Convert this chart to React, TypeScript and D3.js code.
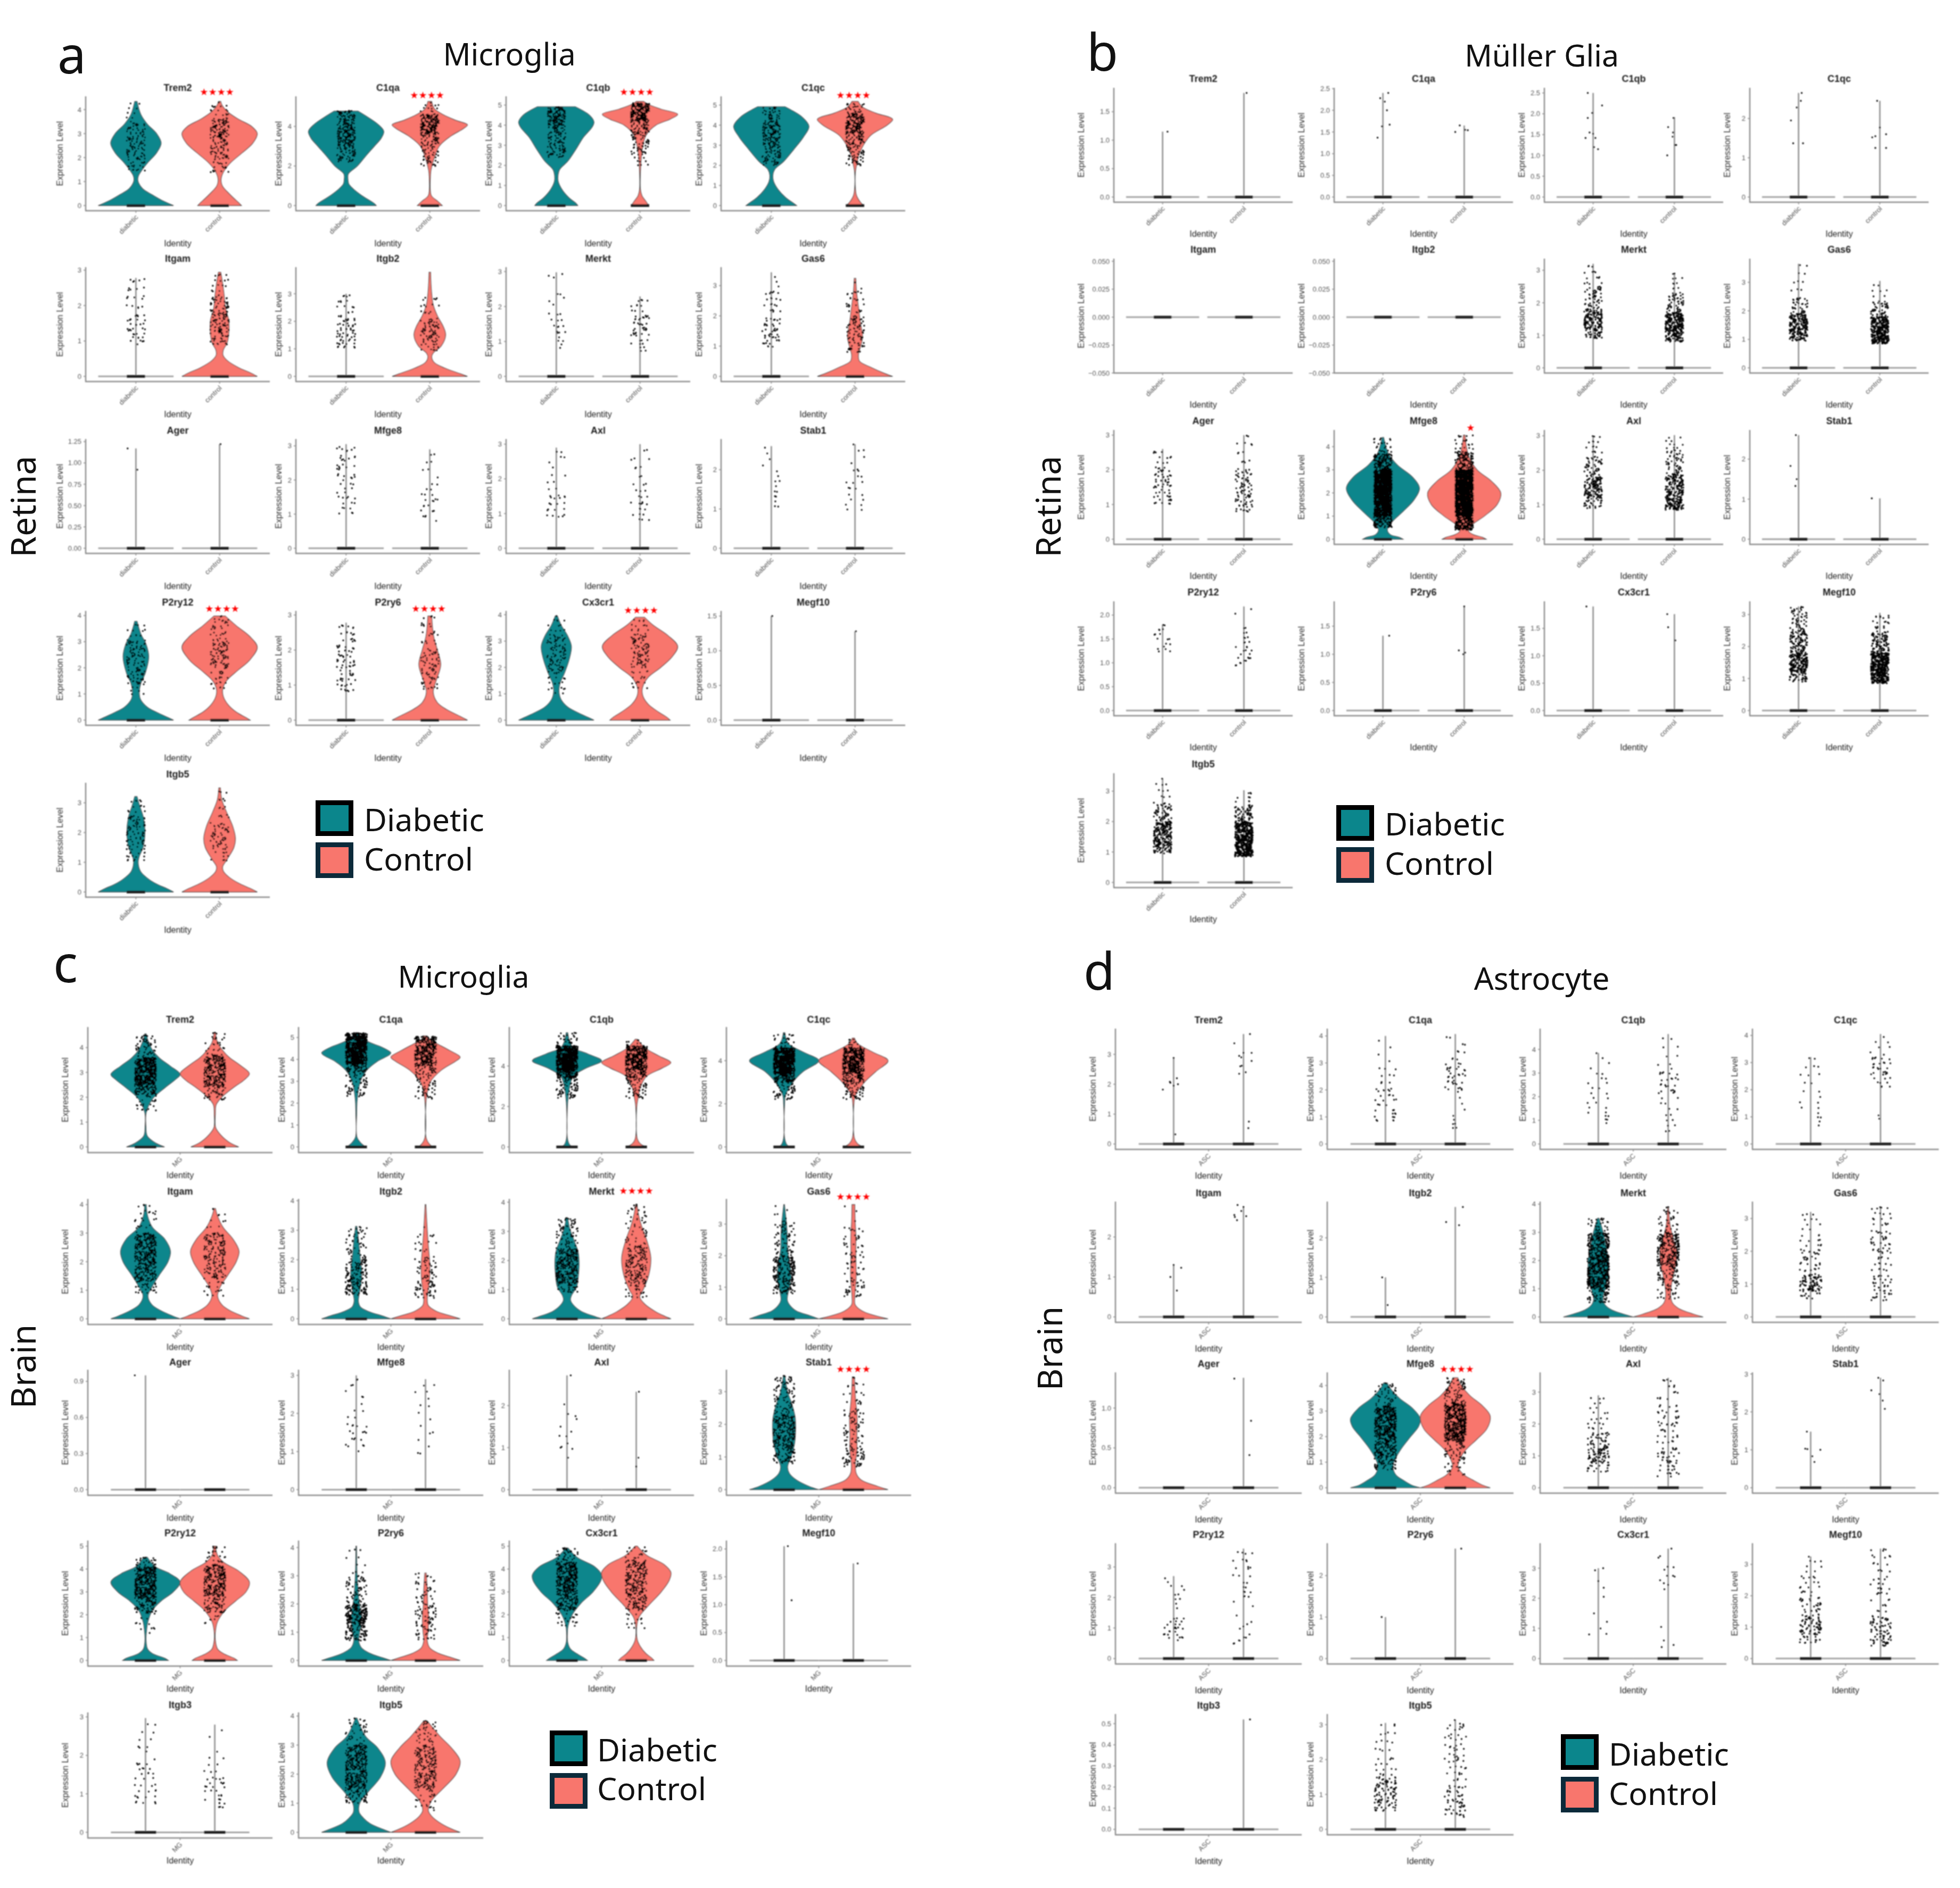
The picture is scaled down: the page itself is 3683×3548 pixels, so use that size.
import React from "react";
import * as d3 from "d3";

type Prof = [number, number][];
type Band = [number, number, number];
type Pt = [number, number];

const geneOrder4 = ["Trem2","C1qa","C1qb","C1qc","Itgam","Itgb2","Merkt","Gas6","Ager","Mfge8","Axl","Stab1","P2ry12","P2ry6","Cx3cr1","Megf10"];
const groups = ["diabetic","control"];
const I03 = [0,1,2,3], I04 = [0,1,2,3,4], I05 = [0,1,2,3,4,5];
const H15 = [0,0.5,1,1.5], H20 = [0,0.5,1,1.5,2], H25 = [0,0.5,1,1.5,2,2.5];

// ---------- Panel a ----------
const aGenes = [...geneOrder4, "Itgb5"];
const aTicks = [I04,[0,2,4],I05,I05, I03,I03,I03,I03, [0,0.25,0.5,0.75,1,1.25],I03,I03,[0,1,2], I04,I03,I04,H15, I03];
const aTops: Pt[] = [[4.34,4.34],[4.77,5.26],[4.92,5.18],[4.92,5.18],[2.78,2.94],[3,3.78],[2.98,2.29],[3.44,3.24],[1.17,1.22],[3.05,2.9],[2.9,3],[2.6,2.65],[3.78,3.98],[2.78,2.97],[3.95,3.9],[1.5,1.28],[3.21,3.5]];
const aShapes: Record<string,(Prof|null)[]> = {
  Trem2:[[[0,1],[.1,.85],[.25,.65],[.46,.42],[.7,.18],[.95,.07],[1.09,.05],[1.25,.07],[1.5,.17],[1.8,.32],[2.2,.55],[2.6,.67],[3,.55],[3.4,.3],[3.8,.13],[4.34,.03]],
         [[0,.58],[.1,.52],[.3,.38],[.5,.25],[.8,.08],[1,.04],[1.2,.05],[1.5,.14],[1.8,.3],[2.2,.6],[2.6,.88],[3,1],[3.3,.85],[3.6,.5],[3.9,.22],[4.2,.06],[4.34,.03]]],
  C1qa:[[[0,.8],[.1,.75],[.5,.42],[.86,.18],[1.1,.07],[1.32,.05],[1.6,.06],[2,.3],[2.5,.52],[3,.75],[3.4,.93],[3.75,1],[4.1,.85],[4.5,.55],[4.77,.32]],
        [[0,.33],[.2,.22],[.5,.04],[.8,.012],[1.3,.012],[1.78,.03],[2.3,.1],[3,.25],[3.5,.55],[3.9,.9],[4.08,1],[4.3,.7],[4.6,.35],[4.9,.12],[5.26,.05]]],
  C1qb:[[[0,.57],[.1,.53],[.4,.33],[.8,.15],[1.2,.05],[1.5,.045],[1.8,.09],[2.2,.3],[2.8,.52],[3.4,.72],[3.9,.95],[4.16,1],[4.5,.88],[4.92,.5]],
        [[0,.23],[.2,.16],[.5,.05],[.8,.012],[1.7,.012],[2.3,.03],[2.8,.06],[3.5,.16],[4,.42],[4.3,.8],[4.54,1],[4.8,.55],[5.05,.2],[5.18,.1]]],
  C1qc:[[[0,.67],[.1,.6],[.4,.38],[.8,.18],[1.2,.06],[1.5,.04],[1.8,.09],[2.2,.33],[2.8,.6],[3.4,.85],[3.94,1],[4.4,.82],[4.7,.58],[4.92,.36]],
        [[0,.23],[.15,.15],[.5,.04],[.8,.012],[1.7,.012],[2,.04],[2.5,.1],[3,.22],[3.5,.42],[4,.85],[4.29,1],[4.6,.55],[4.9,.2],[5.18,.08]]],
  Itgam:[null,[[0,1],[.1,.82],[.25,.5],[.45,.2],[.6,.09],[.75,.1],[.95,.2],[1.3,.25],[1.6,.24],[1.9,.16],[2.3,.12],[2.7,.07],[2.94,.03]]],
  Itgb2:[null,[[0,1],[.1,.8],[.3,.4],[.5,.12],[.7,.05],[.85,.09],[1.1,.3],[1.5,.42],[1.8,.36],[2.2,.2],[2.6,.09],[3,.05],[3.4,.03],[3.78,.02]]],
  Gas6:[null,[[0,1],[.1,.78],[.3,.42],[.5,.12],[.7,.09],[1,.15],[1.3,.2],[1.8,.14],[2.3,.09],[2.8,.04],[3.24,.02]]],
  P2ry12:[[[0,1],[.1,.85],[.3,.55],[.5,.3],[.8,.12],[1.08,.09],[1.4,.13],[1.8,.25],[2.43,.34],[2.9,.27],[3.3,.13],[3.78,.03]],
          [[0,.81],[.1,.7],[.3,.45],[.6,.22],[.9,.1],[1.17,.08],[1.5,.18],[1.9,.48],[2.3,.8],[2.79,1],[3.2,.8],[3.6,.45],[3.98,.15]]],
  P2ry6:[null,[[0,1],[.1,.82],[.3,.45],[.5,.2],[.8,.09],[1.1,.16],[1.58,.29],[2,.2],[2.4,.1],[2.97,.05]]],
  Cx3cr1:[[[0,1],[.1,.85],[.3,.55],[.5,.3],[.8,.12],[1.1,.07],[1.4,.1],[1.8,.22],[2.3,.34],[2.8,.4],[3.2,.3],[3.6,.13],[3.95,.03]],
          [[0,.8],[.1,.72],[.3,.5],[.6,.22],[.9,.08],[1.2,.06],[1.6,.2],[2,.55],[2.4,.85],[2.8,1],[3.2,.75],[3.6,.35],[3.9,.12]]],
  Itgb5:[[[0,1],[.1,.85],[.3,.5],[.5,.27],[.7,.12],[1,.06],[1.2,.09],[1.5,.19],[2,.24],[2.5,.2],[2.9,.1],[3.21,.03]],
         [[0,1],[.1,.85],[.3,.5],[.5,.25],[.7,.1],[.85,.08],[1.1,.2],[1.5,.38],[1.8,.42],[2.2,.35],[2.7,.18],[3.1,.06],[3.5,.02]]],
};
const aClouds: Record<string,Band[][]> = {
  Trem2:[[[1.4,2,25],[2,2.8,55],[2.8,3.5,40],[3.5,4.3,8]],[[1.3,2,25],[2,2.8,60],[2.8,3.6,90],[3.6,4.3,20]]],
  C1qa:[[[2.2,3,60],[3,4,140],[4,4.8,80]],[[2,3,45],[3,3.6,50],[3.6,4.6,180],[4.6,5.2,15]]],
  C1qb:[[[2.4,3,45],[3,4,70],[4,4.9,130]],[[1.9,2.6,12],[2.6,3.5,45],[3.5,4.2,70],[4.2,5.1,200]]],
  C1qc:[[[2,3,70],[3,4.2,130],[4.2,4.9,40]],[[2,3,60],[3,3.6,60],[3.6,4.6,170],[4.6,5.1,25]]],
  Itgam:[[[.9,1.3,15],[1.3,1.8,20],[1.8,2.78,20]],[[.9,1.2,25],[1.2,1.8,70],[1.8,2.3,40],[2.3,2.9,15]]],
  Itgb2:[[[1,1.5,25],[1.5,2.2,35],[2.2,3,15]],[[.9,1.3,20],[1.3,2,65],[2,3,20]]],
  Merkt:[[[.8,1.2,5],[1.2,1.9,14],[2,2.4,5],[2.8,3,3]],[[.7,1.1,10],[1.1,1.7,30],[1.7,2.3,15]]],
  Gas6:[[[.9,1.3,15],[1.3,2,30],[2,2.8,20],[2.8,3.44,4]],[[.8,1.2,25],[1.2,2,60],[2,2.8,25],[2.8,3.2,3]]],
  Mfge8:[[[.9,1.5,12],[1.5,2,10],[2,3.05,30]],[[.8,1.4,12],[1.4,2,10],[2,2.9,7]]],
  Axl:[[[.8,1.5,18],[1.5,2.3,8],[2.3,2.9,6]],[[.7,1.3,12],[1.3,2,12],[2,3,10]]],
  Stab1:[[[1,1.5,7],[1.5,2,5],[2,2.6,4]],[[.9,1.4,8],[1.4,2,10],[2,2.65,6]]],
  P2ry12:[[[.9,1.4,8],[1.4,2,40],[2,3,70],[3,3.8,15]],[[1.2,2,25],[2,3,80],[3,3.98,35]]],
  P2ry6:[[[.8,1.4,25],[1.4,2,30],[2,2.78,25]],[[.85,1.4,30],[1.4,2,45],[2,2.97,25]]],
  Cx3cr1:[[[1,1.8,20],[1.8,3.2,90],[3.2,3.95,15]],[[1.2,2,20],[2,3.2,90],[3.2,3.9,20]]],
  Itgb5:[[[1,1.5,20],[1.5,2.5,65],[2.5,3.2,18]],[[1,1.5,15],[1.5,2.3,50],[2.3,3.4,18]]],
};
const aDots: Record<string,Pt[][]> = {
  Ager:[[[1.17,-.9],[.92,.15]],[[1.22,.1]]],
  Megf10:[[[1.5,.1]],[[1.28,.1]]],
};
const aStars: [string,string,number,number][] = [["Trem2","★★★★",-5,-9],["C1qa","★★★★",-5,-3],["C1qb","★★★★",-6,-9],["C1qc","★★★★",-3,-3],["P2ry12","★★★★",5,-5],["P2ry6","★★★★",-2,-5],["Cx3cr1","★★★★",2,-2]];

// ---------- Panel b ----------
const bGenes = [...geneOrder4, "Itgb5"];
const bTicks = [H15,H25,H25,[0,1,2], [-.05,-.025,0,.025,.05],[-.05,-.025,0,.025,.05],I03,I03, I03,I04,I03,[0,1,2], H20,H15,H15,I03, I03];
const bTops: Pt[] = [[1.15,1.83],[2.4,1.65],[2.5,1.92],[2.65,2.45],[0,0],[0,0],[3.2,2.88],[3.65,3.05],[2.6,3],[4.4,4.5],[3,3.02],[2.6,1.02],[1.8,2.18],[1.33,1.85],[1.9,1.76],[3.25,3.05],[3.42,3.03]];
const bShapes: Record<string,(Prof|null)[]> = {
  Mfge8:[[[0,.55],[.08,.45],[.2,.2],[.4,.12],[.7,.22],[1.2,.55],[1.7,.85],[2.2,1],[2.7,.8],[3.2,.4],[3.7,.15],[4.4,.02]],
         [[0,.6],[.08,.5],[.2,.25],[.35,.12],[.6,.2],[1,.55],[1.5,.9],[2,1],[2.5,.75],[3,.35],[3.6,.12],[4.5,.02]]],
};
const bClouds: Record<string,Band[][]> = {
  Merkt:[[[.9,1.2,40],[1.2,1.8,130],[1.8,2.5,50],[2.5,3.2,15]],[[.8,1.1,70],[1.1,1.7,220],[1.7,2.3,50],[2.3,2.9,12]]],
  Gas6:[[[.95,1.2,50],[1.2,1.9,170],[1.9,2.5,35],[2.5,3.65,10]],[[.85,1.1,90],[1.1,1.8,240],[1.8,2.3,40],[2.3,3.05,9]]],
  Ager:[[[1,1.4,20],[1.4,2,35],[2,2.6,15]],[[.75,1.3,35],[1.3,2,45],[2,3,15]]],
  Mfge8:[[[.5,1,120],[1,1.5,300],[1.5,3,1000],[3,3.7,150],[3.7,4.4,25]],[[.4,1,200],[1,1.5,400],[1.5,3,1100],[3,3.8,130],[3.8,4.5,20]]],
  Axl:[[[.9,1.2,30],[1.2,1.8,130],[1.8,2.4,50],[2.4,3,15]],[[.85,1.1,70],[1.1,1.9,170],[1.9,2.6,50],[2.6,3,10]]],
  P2ry12:[[[1.2,1.4,6],[1.4,1.8,12]],[[.9,1.1,8],[1.1,1.4,10],[1.4,1.8,10],[1.8,2.18,2]]],
  Megf10:[[[.9,1.2,40],[1.2,1.8,170],[1.8,2.5,100],[2.5,3.25,50]],[[.85,1.1,100],[1.1,1.8,340],[1.8,2.4,90],[2.4,3.05,25]]],
  Itgb5:[[[.95,1.2,40],[1.2,2,190],[2,2.6,55],[2.6,3.42,12]],[[.85,1.1,130],[1.1,2,350],[2,2.5,65],[2.5,3.03,12]]],
};
const bDots: Record<string,Pt[][]> = {
  Trem2:[[[1.15,.55]],[[1.83,.3]]],
  C1qa:[[[2.4,.6],[2.28,-.3],[2.2,.2],[2,.45],[1.67,.75],[1.63,-.1],[1.37,-.6]],[[1.65,-.5],[1.5,-1],[1.55,.1],[1.54,.4]]],
  C1qb:[[[2.5,-.6],[2.2,1],[2.02,-.1],[1.9,-.6],[1.55,-.4],[1.52,0],[1.42,.25],[1.42,-.85],[1.2,.1],[1.15,.55]],[[1.9,-.1],[1.68,-.7],[1.55,-.15],[1.45,-.2],[1.25,.1],[1.25,.2],[1,-.8]]],
  C1qc:[[[2.65,.35],[2.45,.25],[2.28,-.2],[1.95,-.85],[1.37,-.6],[1.37,.5]],[[2.45,-.3],[1.77,0],[1.55,-.5],[1.52,-.85],[1.6,.7],[1.25,-.5],[1.25,.7]]],
  Stab1:[[[2.6,-.3],[1.83,-.9],[1.5,-.2],[1.33,-.35]],[[1.02,-.9]]],
  P2ry6:[[[1.33,.7]],[[1.85,0],[1.07,-.6],[1,-.1],[1.03,.1]]],
  Cx3cr1:[[[1.9,-.75]],[[1.76,-.8],[1.52,-.7],[1.28,.1]]],
};
const bStars: [string,string,number,number][] = [["Mfge8","★",12,-5]];

// ---------- Panel c ----------
const cGenes = [...geneOrder4, "Itgb3", "Itgb5"];
const cTicks = [I04,I05,[0,2,4],[0,2,4], I04,I04,I04,I03, [0,.3,.6,.9],I03,[0,1,2],I03, I05,I04,I05,H20, I03,I04];
const cTops: Pt[] = [[4.55,4.6],[5.22,5.07],[5.65,5.32],[5.3,5.05],[4,3.86],[3.13,3.87],[3.47,3.92],[3.62,3.62],[.95,0],[3,2.9],[2.72,2.33],[3.5,3.45],[4.52,5],[4.05,3.1],[4.92,5],[2.05,1.74],[2.97,2.8],[3.93,3.83]];
const cShapes: Record<string,(Prof|null)[]> = {
  Trem2:[[[0,.55],[.15,.3],[.44,.05],[.83,.012],[1.38,.02],[1.93,.2],[2.37,.55],[2.7,.85],[2.92,1],[3.25,.72],[3.58,.4],[3.9,.2],[4.25,.08],[4.55,.02]],
         [[0,.69],[.2,.4],[.6,.1],[.8,.02],[1.3,.015],[1.7,.04],[2,.2],[2.4,.55],[2.7,.85],[2.95,1],[3.3,.72],[3.6,.42],[3.9,.22],[4.2,.08],[4.6,.02]]],
  C1qa:[[[0,.27],[.2,.12],[.45,.02],[1.5,.012],[2.2,.03],[3,.12],[3.5,.3],[3.9,.6],[4.2,.95],[4.3,1],[4.55,.75],[4.8,.35],[5.05,.12],[5.22,.06]],
        [[0,.2],[.15,.1],[.4,.02],[2,.012],[2.5,.05],[3,.15],[3.5,.45],[3.9,.85],[4.1,1],[4.4,.7],[4.7,.35],[4.9,.12],[5.07,.05]]],
  C1qb:[[[0,.18],[.1,.08],[.4,.015],[2,.012],[2.4,.03],[3,.08],[3.5,.18],[3.9,.55],[4.26,1],[4.6,.6],[4.9,.18],[5.2,.08],[5.65,.02]],
        [[0,.3],[.15,.12],[.4,.03],[2,.015],[2.4,.05],[3,.13],[3.5,.3],[3.9,.75],[4.17,1],[4.5,.65],[4.9,.25],[5.32,.03]]],
  C1qc:[[[0,.17],[.1,.08],[.4,.015],[2,.015],[2.4,.04],[3,.25],[3.5,.55],[4,1],[4.4,.55],[4.8,.12],[5.3,.02]],
        [[0,.28],[.15,.12],[.4,.03],[2,.015],[2.4,.06],[3,.32],[3.5,.65],[4,1],[4.4,.55],[4.8,.12],[5.05,.03]]],
  Itgam:[[[0,1],[.1,.78],[.3,.42],[.5,.18],[.8,.07],[1.1,.18],[1.5,.38],[2,.65],[2.37,.72],[2.8,.55],[3.2,.2],[3.6,.06],[4,.02]],
         [[0,1],[.1,.78],[.3,.42],[.5,.2],[.8,.08],[1.1,.15],[1.5,.36],[2,.62],[2.37,.7],[2.8,.52],[3.2,.24],[3.6,.08],[3.86,.02]]],
  Itgb2:[[[0,1],[.1,.75],[.25,.35],[.4,.12],[.6,.06],[.8,.08],[1.2,.14],[1.6,.16],[2,.12],[2.5,.08],[3.13,.02]],
         [[0,1],[.1,.72],[.25,.32],[.45,.08],[.7,.05],[1,.08],[1.4,.12],[1.9,.12],[2.5,.08],[3,.05],[3.87,.01]]],
  Merkt:[[[0,1],[.1,.75],[.25,.42],[.45,.2],[.65,.1],[.8,.13],[1.1,.28],[1.5,.33],[1.9,.35],[2.3,.32],[2.7,.2],[3.1,.08],[3.47,.02]],
         [[0,1],[.1,.8],[.25,.55],[.5,.25],[.75,.1],[1,.2],[1.5,.36],[2.1,.42],[2.7,.3],[3.2,.15],[3.6,.06],[3.92,.02]]],
  Gas6:[[[0,1],[.1,.75],[.25,.35],[.45,.15],[.6,.09],[.9,.13],[1.3,.2],[1.7,.17],[2.2,.1],[2.7,.09],[3.1,.06],[3.62,.01]],
        [[0,1],[.1,.62],[.25,.25],[.45,.05],[.7,.04],[1,.06],[1.3,.08],[2,.07],[2.7,.07],[3.1,.05],[3.62,.04]]],
  Stab1:[[[0,1],[.1,.72],[.3,.35],[.5,.15],[.7,.1],[1,.2],[1.4,.3],[1.8,.33],[2.2,.32],[2.6,.23],[3,.1],[3.5,.02]],
         [[0,1],[.1,.7],[.3,.22],[.5,.08],[.8,.06],[1.2,.1],[1.7,.1],[2.2,.11],[2.8,.06],[3.45,.03]]],
  P2ry12:[[[0,.66],[.1,.55],[.3,.2],[.5,.06],[.9,.015],[1.3,.03],[1.7,.07],[2.2,.2],[2.6,.45],[3,.8],[3.43,1],[3.8,.7],[4.1,.28],[4.52,.05]],
          [[0,.65],[.1,.55],[.3,.25],[.5,.08],[.9,.015],[1.3,.02],[1.7,.08],[2.2,.3],[2.6,.6],[3,.9],[3.43,1],[3.9,.7],[4.3,.25],[4.6,.08],[5,.02]]],
  P2ry6:[[[0,1],[.1,.75],[.25,.4],[.45,.15],[.7,.07],[1,.1],[1.4,.14],[1.7,.13],[2.2,.07],[2.7,.04],[3.2,.02],[4.05,.01]],
         [[0,1],[.1,.75],[.25,.38],[.45,.12],[.7,.05],[1,.07],[1.5,.09],[2,.06],[2.5,.05],[3.1,.02]]],
  Cx3cr1:[[[0,.59],[.1,.5],[.3,.28],[.5,.1],[.8,.02],[1.2,.012],[1.5,.03],[2,.15],[2.5,.4],[3,.75],[3.5,.98],[3.74,1],[4.1,.8],[4.5,.3],[4.92,.03]],
          [[0,.51],[.1,.45],[.3,.28],[.6,.12],[.9,.03],[1.5,.015],[1.9,.08],[2.4,.35],[3,.72],[3.5,.95],[3.85,1],[4.2,.8],[4.6,.3],[5,.03]]],
  Itgb5:[[[0,1],[.1,.78],[.3,.4],[.5,.2],[.7,.08],[1,.1],[1.4,.35],[1.9,.7],[2.4,.84],[2.9,.62],[3.3,.27],[3.93,.02]],
         [[0,1],[.1,.78],[.3,.45],[.55,.18],[.75,.08],[1.1,.18],[1.5,.5],[2,.88],[2.45,1],[2.9,.75],[3.3,.42],[3.83,.05]]],
};
const cClouds: Record<string,Band[][]> = {
  Trem2:[[[1.4,2.1,25],[2.1,2.5,90],[2.5,3.6,420],[3.6,4.5,60]],[[1.9,2.4,40],[2.4,3.7,280],[3.7,4.6,30]]],
  C1qa:[[[2.3,3.4,60],[3.4,3.8,70],[3.8,5.2,700]],[[2.2,3.3,55],[3.3,3.7,40],[3.7,5.05,330]]],
  C1qb:[[[2.4,3.4,70],[3.4,3.8,110],[3.8,5,650],[5,5.65,30]],[[2.4,3.4,60],[3.4,3.8,70],[3.8,5,380],[5,5.3,8]]],
  C1qc:[[[2.2,3,50],[3,3.4,100],[3.4,4.6,650],[4.6,5.3,25]],[[2.2,3,60],[3,3.4,80],[3.4,4.6,400],[4.6,5.05,15]]],
  Itgam:[[[.9,1.3,30],[1.3,2,130],[2,3,240],[3,4,25]],[[.8,1.4,20],[1.4,2,60],[2,3,120],[3,3.86,12]]],
  Itgb2:[[[.8,1.3,80],[1.3,2,90],[2,3.13,50]],[[.7,1.3,45],[1.3,2,40],[2,3,20],[3,3.87,1]]],
  Merkt:[[[.9,1.2,30],[1.2,2.4,300],[2.4,3.47,70]],[[.7,1.2,25],[1.2,2.5,170],[2.5,3.92,50]]],
  Gas6:[[[.8,1.2,70],[1.2,2,160],[2,3.1,70],[3.1,3.62,5]],[[.7,1.3,35],[1.3,2,25],[2,3,30],[3,3.62,3]]],
  Mfge8:[[[1,1.7,18],[1.7,2.4,6],[2.4,3,7]],[[.8,1.5,5],[1.5,2.2,5],[2.2,2.9,6]]],
  Stab1:[[[.8,1.3,70],[1.3,2.3,220],[2.3,3.5,90]],[[.7,1.3,55],[1.3,2.4,60],[2.4,3.45,25]]],
  P2ry12:[[[1.2,2.1,15],[2.1,2.7,70],[2.7,4.1,370],[4.1,4.5,25]],[[1.5,2.1,10],[2.1,2.8,70],[2.8,4.2,260],[4.2,5,25]]],
  P2ry6:[[[.7,1.3,80],[1.3,2,180],[2,3,60],[3,4.05,10]],[[.7,1.3,30],[1.3,2,45],[2,3,35],[3,3.1,2]]],
  Cx3cr1:[[[1.5,2.2,25],[2.2,3,120],[3,4.3,300],[4.3,4.92,40]],[[1.4,2.2,15],[2.2,3,90],[3,4.4,180],[4.4,4.98,18]]],
  Itgb3:[[[.7,1.3,18],[1.3,1.8,15],[1.8,2.2,3],[2.2,2.97,8]],[[.6,1,12],[1,1.4,14],[1.4,2.1,10],[2.1,2.8,2]]],
  Itgb5:[[[1,1.5,60],[1.5,3,360],[3,3.93,40]],[[.75,1.5,30],[1.5,3,220],[3,3.83,40]]],
};
const cDots: Record<string,Pt[][]> = {
  Ager:[[[.95,-1]],[]],
  Axl:[[[2.72,.35],[2.03,-.25],[1.8,.1],[1.75,.8],[1.68,.9],[1.5,-.6],[1.38,.4],[1.28,-.7],[1.27,-.05],[1.1,.05],[1.02,-.5],[1,-.6],[.97,.5],[.76,.1]],[[2.33,.25],[.76,.2],[.55,0]]],
  Megf10:[[[2.05,.35],[1.08,.7]],[[1.74,.4]]],
};
const cStars: [string,string,number,number][] = [["Merkt","★★★★",0,-16],["Gas6","★★★★",0,-5],["Stab1","★★★★",0,-2]];

// ---------- Panel d ----------
const dGenes = [...geneOrder4, "Itgb3", "Itgb5"];
const dTicks = [I03,I04,I04,I04, [0,1,2],[0,1,2],I04,I03, [0,.5,1],I04,I03,I03, I03,[0,1,2],I03,I03, [0,.1,.2,.3,.4,.5],I03];
const dTops: Pt[] = [[2.88,3.68],[4,4.07],[3.85,4.65],[3.2,4.05],[1.3,2.75],[1,2.78],[3.5,3.9],[3.2,3.35],[0,1.38],[4.1,4.3],[2.9,3.45],[1.48,2.9],[2.7,3.6],[1,2.65],[3,3.65],[3.25,3.5],[0,.52],[3.05,3.15]];
const dShapes: Record<string,(Prof|null)[]> = {
  Merkt:[[[0,1],[.1,.72],[.25,.38],[.45,.18],[.7,.13],[1,.2],[1.5,.28],[2,.29],[2.5,.22],[3,.14],[3.5,.02]],
         [[0,1],[.1,.72],[.3,.3],[.5,.12],[.75,.07],[1.2,.1],[1.8,.2],[2.3,.24],[2.8,.14],[3.3,.05],[3.9,.01]]],
  Mfge8:[[[0,1],[.1,.75],[.3,.5],[.5,.3],[.75,.22],[1,.24],[1.5,.44],[2,.72],[2.4,.95],[2.7,1],[3.1,.78],[3.5,.4],[3.9,.13],[4.1,.05]],
         [[0,1],[.1,.78],[.3,.5],[.5,.25],[.8,.08],[1,.1],[1.4,.25],[1.9,.62],[2.3,.9],[2.8,1],[3.2,.78],[3.6,.42],[4,.17],[4.3,.07]]],
};
const dClouds: Record<string,Band[][]> = {
  C1qa:[[[.8,1.3,13],[1.3,2,15],[2,3,12],[3,4,4]],[[.5,1.1,6],[1.1,2,4],[2,3,35],[3,4.07,10]]],
  C1qb:[[[.8,1.4,7],[1.4,2.2,8],[2.2,3,8],[3,3.85,4]],[[.4,1.3,8],[1.3,2.2,8],[2.2,3.2,24],[3.2,4.65,8]]],
  C1qc:[[[.6,1.2,5],[1.2,2,7],[2,3.2,10]],[[.6,1.1,2],[2,2.6,12],[2.6,3.3,24],[3.3,4.05,6]]],
  Merkt:[[[.5,1,60],[1,2.2,420],[2.2,3,200],[3,3.5,30]],[[.6,1.2,30],[1.2,1.8,60],[1.8,3,250],[3,3.9,35]]],
  Gas6:[[[.5,.8,15],[.8,1.3,75],[1.3,2,30],[2,2.6,15],[2.6,3.2,10]],[[.5,.9,20],[.9,1.3,20],[1.3,2,20],[2,2.7,30],[2.7,3.35,18]]],
  Mfge8:[[[.7,1.2,60],[1.2,2,160],[2,3.2,340],[3.2,4.1,50]],[[.5,1.1,20],[1.1,1.8,50],[1.8,3.3,500],[3.3,4.3,80]]],
  Axl:[[[.45,.8,20],[.8,1.3,70],[1.3,1.7,30],[1.7,2.3,15],[2.3,2.9,10]],[[.35,.8,20],[.8,1.3,25],[1.3,2,20],[2,2.7,22],[2.7,3.45,15]]],
  P2ry12:[[[.6,1,15],[1,1.4,12],[1.6,2.2,6],[2.2,2.7,5]],[[.4,.8,7],[.9,1.2,4],[1.4,2,3],[2,2.6,10],[2.6,3.6,15]]],
  Megf10:[[[.45,.8,20],[.8,1.3,55],[1.3,2,35],[2,2.6,14],[2.6,3.25,10]],[[.4,.8,35],[.8,1.3,40],[1.3,2,12],[2,2.6,18],[2.6,3.5,18]]],
  Itgb5:[[[.5,.8,25],[.8,1.5,75],[1.5,2.1,15],[2.1,3.05,15]],[[.35,.8,30],[.8,1.3,25],[1.3,2,18],[2,3.15,35]]],
};
const dDots: Record<string,Pt[][]> = {
  Trem2:[[[2.88,0],[2.2,.3],[2.08,-.35],[2.05,-.3],[2,.4],[1.95,0],[1.82,-1],[.32,.15]],[[3.68,.6],[3.37,-.85],[3.05,0],[3.05,.75],[2.95,-.4],[2.9,-.2],[2.78,.75],[2.62,-.15],[2.6,-.3],[2.4,.2],[2.35,-.4],[.75,.5],[.53,.45]]],
  Itgam:[[[1.3,0],[1.23,.7],[1,-.3],[.66,.3]],[[2.8,-.55],[2.75,0],[2.65,-.2],[2.52,.25],[2.5,-.8],[2.42,-.6],[2.55,-.85]]],
  Itgb2:[[[1,-.3],[.3,.2]],[[2.78,.7],[2.4,-.85],[2.32,.35]]],
  Ager:[[],[[1.37,-.85],[.84,.7],[.41,.55]]],
  Stab1:[[[1.48,-.35],[1.03,-.5],[1.02,-.3],[1,.9],[.83,.15],[.68,.35]],[[2.9,-.2],[2.83,.25],[2.57,-.85],[2.47,-.1],[2.3,.2],[2.08,.4]]],
  P2ry6:[[[1,-.35]],[[2.65,.55]]],
  Cx3cr1:[[[3,.45],[2.93,-.3],[2.57,0],[2.35,.5],[2.05,.5],[1.5,-.4],[1.22,.8],[1,.2],[.82,.75],[.8,-.85]],[[3.65,.3],[3.4,-.75],[3.35,-.9],[3.05,-.05],[3.03,.5],[2.95,-.35],[2.75,.45],[2.72,.6],[2.75,-.1],[2.6,-.75],[2.5,-.4],[2.45,0],[2.3,-.35],[1.05,-.65],[.6,-.4],[.45,.5],[.38,-.6]]],
  Itgb3:[[],[[.52,.6]]],
};
const dStars: [string,string,number,number][] = [["Mfge8","★★★★",3,-7]];

const TEAL = "#0B868C", SALMON = "#F8766D";
const colors = [TEAL, SALMON];
const SANS = "'Liberation Sans', Arial, sans-serif";
const BIG = "'Noto Sans', sans-serif";

type PanelProps = {
  genes: string[]; ticks: number[][]; tops: Pt[];
  shapes: Record<string,(Prof|null)[]>; clouds: Record<string,Band[][]>; dots: Record<string,Pt[][]>;
  stars: [string,string,number,number][];
  cols: number[]; bottoms: number[]; w: number; h: number; yLab: number[]; titleDy: number; idDy: number;
  padding: number; widthFrac: number; jitterFrac: number; xLabels: string[];
};

const frac = (v: number) => v - Math.floor(v);

function hashSeed(s: string) {
  let h = 0;
  for (let i = 0; i < s.length; i++) h = (h * 31 + s.charCodeAt(i)) % 997;
  return h;
}

function Small(p: PanelProps & { i: number }) {
  const gene = p.genes[p.i];
  const col = p.i % 4, row = Math.floor(p.i / 4);
  const left = p.cols[col], bottom = p.bottoms[row], top = bottom - p.h, right = left + p.w;
  const tk = p.ticks[p.i];
  const negative = tk[0] < 0;
  const [tD, tC] = p.tops[p.i];
  const yMax = negative ? tk[tk.length - 1] : Math.max(tD, tC);
  const yMin = negative ? tk[0] : 0;
  const inset = 0.045 * p.h;
  const y = d3.scaleLinear().domain([yMin, yMax]).range(negative ? [bottom, top + 5] : [bottom - inset, top + inset]);
  const x = d3.scalePoint<string>().domain(groups).range([left, right]).padding(p.padding);
  const hw = p.widthFrac * p.w, jw = p.jitterFrac * p.w;
  const decimals = d3.max(tk, (t) => (String(t).split(".")[1] || "").length) || 0;
  const fmt = d3.format(`.${decimals}f`);
  const tickXs = p.xLabels.length === 2 ? groups.map((g) => x(g)!) : [(left + right) / 2];
  const shape = p.shapes[gene] || [null, null];
  const cloud = p.clouds[gene] || [[], []];
  const dots = p.dots[gene] || [[], []];
  const seed = hashSeed(gene);

  return (
    <g>
      <text x={(left + right) / 2} y={top + p.titleDy} textAnchor="middle" fontFamily={SANS} fontWeight="bold" fontSize={18} fill="#1a1a1a">{gene}</text>
      {groups.map((g, k) => {
        const cx = x(g)!;
        const topVal = k === 0 ? tD : tC;
        const prof = shape[k];
        const area = d3.area<[number, number]>()
          .y((d) => y(d[0]))
          .x0((d) => cx - hw * d[1])
          .x1((d) => cx + hw * d[1])
          .curve(d3.curveCatmullRom.alpha(0.5));
        const path = d3.path();
        const r = 1.7;
        const put = (val: number, off: number) => {
          const px = cx + off * jw, py = y(val);
          path.moveTo(px + r, py);
          path.arc(px, py, r, 0, 2 * Math.PI);
        };
        let n = seed + k * 211 + 1;
        cloud[k].forEach(([lo, hi, count]) => {
          for (let c = 0; c < count; c++) {
            n += 1;
            put(lo + (hi - lo) * frac(n * 0.7548776662), 2 * frac(n * n * 0.00731 + n * 0.5698402910) - 1);
          }
        });
        dots[k].forEach(([val, off]) => put(val, off));
        return (
          <g key={g}>
            {prof ? (
              <path d={area(prof) || ""} fill={colors[k]} stroke="#4a4a4a" strokeWidth={1.2} />
            ) : (
              <g stroke="#a3a3a3">
                <line x1={cx - hw} x2={cx + hw} y1={y(0)} y2={y(0)} strokeWidth={3} />
                {topVal > 0 && <line x1={cx} x2={cx} y1={y(0)} y2={y(topVal)} strokeWidth={2.6} stroke="#8f8f8f" />}
              </g>
            )}
            <rect x={cx - jw} width={2 * jw} y={y(0) - 2.5} height={5} fill="#1c1c1c" />
            <path d={path.toString()} fill="#000" />
          </g>
        );
      })}
      <line x1={left} x2={left} y1={top} y2={bottom} stroke="#8a8a8a" strokeWidth={2.4} />
      <line x1={left - 1} x2={right} y1={bottom} y2={bottom} stroke="#8a8a8a" strokeWidth={2.4} />
      {tk.map((t) => (
        <g key={t}>
          <line x1={left - 4} x2={left} y1={y(t)} y2={y(t)} stroke="#8a8a8a" strokeWidth={1.5} />
          <text x={left - 8} y={y(t) + 4.5} textAnchor="end" fontFamily={SANS} fontSize={13} fill="#555">{fmt(t)}</text>
        </g>
      ))}
      {tickXs.map((tx, k) => (
        <g key={k}>
          <line x1={tx} x2={tx} y1={bottom} y2={bottom + 4} stroke="#8a8a8a" strokeWidth={1.5} />
          <text transform={`translate(${tx + 5},${bottom + 13}) rotate(-45)`} textAnchor="end" fontFamily={SANS} fontSize={13} fill="#555">{p.xLabels[k]}</text>
        </g>
      ))}
      <text x={(left + right) / 2} y={bottom + p.idDy} textAnchor="middle" fontFamily={SANS} fontSize={16} fill="#222">Identity</text>
      <text transform={`translate(${left + p.yLab[col]},${(top + bottom) / 2}) rotate(-90)`} textAnchor="middle" fontFamily={SANS} fontSize={16} fill="#333">Expression Level</text>
      {p.stars.filter((s) => s[0] === gene).map((s) => (
        <text key={s[0]} x={x("control")! + s[2]} y={top + s[3] + 7} textAnchor="middle" fontFamily="'DejaVu Sans'" fontSize={18} fill="#ff0000">{s[1]}</text>
      ))}
    </g>
  );
}

function Panel(p: PanelProps) {
  return <g>{p.genes.map((g, i) => <Small key={g} {...p} i={i} />)}</g>;
}

function Legend({ x, y1, y2, tx, b1, b2, w, h }: { x: number; y1: number; y2: number; tx: number; b1: number; b2: number; w: number; h: number }) {
  const sw = 9;
  return (
    <g>
      <rect x={x + sw / 2} y={y1 + sw / 2} width={w - sw} height={h - sw} fill={TEAL} stroke="#000" strokeWidth={sw} />
      <rect x={x + sw / 2} y={y2 + sw / 2} width={w - sw} height={h - sw} fill={SALMON} stroke="#0c2a3a" strokeWidth={sw} />
      <text x={tx} y={b1} fontFamily={BIG} fontSize={59} fill="#111">Diabetic</text>
      <text x={tx} y={b2} fontFamily={BIG} fontSize={59} fill="#111">Control</text>
    </g>
  );
}

function Big({ x, y, size, children, anchor = "start", rotate = false }: { x: number; y: number; size: number; children: string; anchor?: string; rotate?: boolean }) {
  return (
    <text transform={`translate(${x},${y})${rotate ? " rotate(-90)" : ""}`} textAnchor={anchor as any} fontFamily={BIG} fontSize={size} fill="#111">{children}</text>
  );
}

export default function App() {
  const twoCat = { padding: 0.6, widthFrac: 0.2045, jitterFrac: 0.05, xLabels: groups };
  return (
    <svg width={3683} height={3548} viewBox="0 0 3683 3548" style={{ position: "absolute", left: 0, top: 0, background: "#fff" }}>
      <defs>
        <filter id="soft" x="0" y="0" width="100%" height="100%" filterUnits="userSpaceOnUse" primitiveUnits="userSpaceOnUse">
          <feGaussianBlur stdDeviation="0.8" />
        </filter>
      </defs>
      <g filter="url(#soft)">
        <Panel genes={aGenes} ticks={aTicks} tops={aTops} shapes={aShapes} clouds={aClouds} dots={aDots} stars={aStars}
          cols={[161,556,951,1355]} bottoms={[396,717,1040,1363,1686]} w={346} h={215} yLab={[-43,-27,-27,-36]} titleDy={-10} idDy={67} {...twoCat} />
        <Panel genes={bGenes} ticks={bTicks} tops={bTops} shapes={bShapes} clouds={bClouds} dots={bDots} stars={bStars}
          cols={[2093,2507,2902,3288]} bottoms={[380,701,1023,1345,1668]} w={336} h={215} yLab={[-56,-56,-37,-37]} titleDy={-11} idDy={65} {...twoCat} />
        <Panel genes={cGenes} ticks={cTicks} tops={cTops} shapes={cShapes} clouds={cClouds} dots={cDots} stars={cStars}
          cols={[165,561,957,1365]} bottoms={[2166,2489,2810,3131,3454]} w={347} h={236} yLab={[-37,-26,-27,-37]} titleDy={-8} idDy={48}
          padding={0.833} widthFrac={0.1875} jitterFrac={0.058} xLabels={["MG"]} />
        <Panel genes={dGenes} ticks={dTicks} tops={dTops} shapes={dShapes} clouds={dClouds} dots={dDots} stars={dStars}
          cols={[2096,2494,2894,3293]} bottoms={[2160,2485,2806,3127,3448]} w={350} h={227} yLab={[-37,-26,-27,-28]} titleDy={-10} idDy={55}
          padding={0.833} widthFrac={0.1875} jitterFrac={0.058} xLabels={["ASC"]} />
      </g>
      <Big x={108} y={138} size={96}>a</Big>
      <Big x={2042} y={133} size={96}>b</Big>
      <Big x={100} y={1846} size={96}>c</Big>
      <Big x={2036} y={1860} size={96}>d</Big>
      <Big x={957} y={123} size={57.5} anchor="middle">Microglia</Big>
      <Big x={2897} y={125} size={57} anchor="middle">Müller Glia</Big>
      <Big x={871} y={1856} size={57} anchor="middle">Microglia</Big>
      <Big x={2897} y={1860} size={58} anchor="middle">Astrocyte</Big>
      <Big x={67} y={952} size={64} anchor="middle" rotate>Retina</Big>
      <Big x={1993} y={952} size={64} anchor="middle" rotate>Retina</Big>
      <Big x={67} y={2568} size={64} anchor="middle" rotate>Brain</Big>
      <Big x={1996} y={2534} size={64} anchor="middle" rotate>Brain</Big>
      <Legend x={593} y1={1504} y2={1583} w={71} h={67} tx={684} b1={1562} b2={1636} />
      <Legend x={2511} y1={1513} y2={1592} w={71} h={67} tx={2602} b1={1570} b2={1644} />
      <Legend x={1033} y1={3252} y2={3332} w={71} h={67} tx={1122} b1={3310} b2={3383} />
      <Legend x={2933} y1={3259} y2={3339} w={71} h={67} tx={3023} b1={3318} b2={3392} />
    </svg>
  );
}
